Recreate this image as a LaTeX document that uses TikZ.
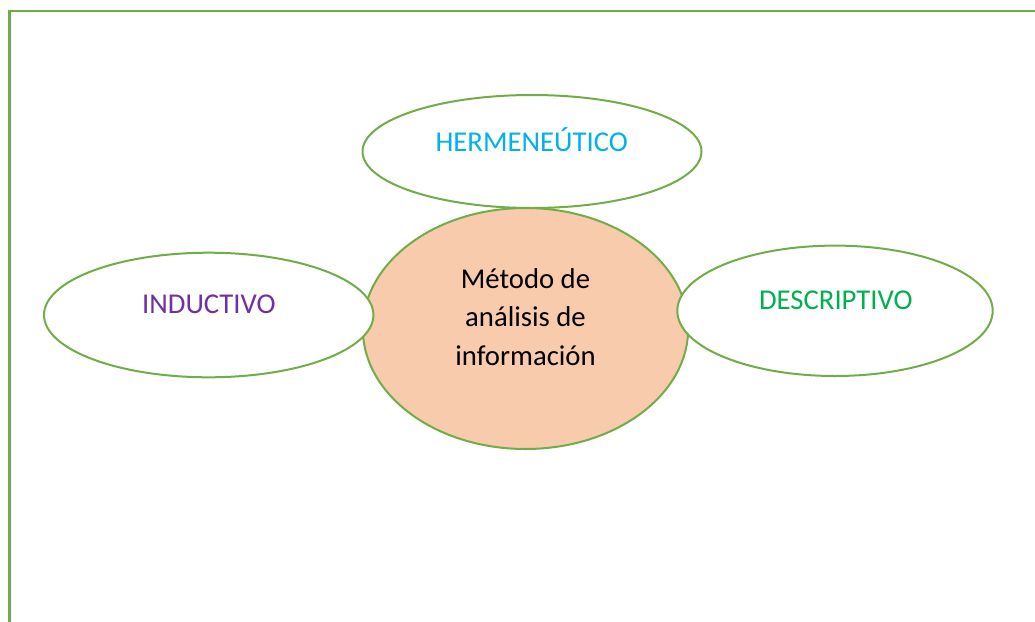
\documentclass[tikz,border=0pt]{standalone}
\usepackage{fontspec}
\setmainfont{Carlito}
\usetikzlibrary{shapes.geometric}
\definecolor{bordergreen}{HTML}{70AD47}
\definecolor{peach}{HTML}{F8CBAD}
\definecolor{hblue}{HTML}{00B0F0}
\definecolor{ipurple}{HTML}{7030A0}
\definecolor{dgreen}{HTML}{00B050}
\tikzset{
  oval/.style={ellipse, draw=bordergreen, line width=2pt, inner sep=0pt, outer sep=0pt},
  label text/.style={anchor=base, inner sep=0pt, font=\fontsize{28.7}{38.4}\selectfont}
}
\begin{document}
\begin{tikzpicture}[x=1pt,y=-1pt]
\useasboundingbox (0,0) rectangle (1035,621);
\begin{scope}
\clip (0,0) rectangle (1035,621);
\draw[bordergreen, line width=2.5pt] (9.5,11) rectangle (1050,640);
\end{scope}
% center
\node[oval, fill=peach, minimum width=325.4pt, minimum height=241pt] (center) at (525.5,328.5) {};
% satellites
\node[oval, fill=white, minimum width=339pt, minimum height=113pt] (herm) at (532,151.5) {};
\node[oval, fill=white, minimum width=329.4pt, minimum height=124.6pt] (ind) at (208.7,315) {};
\node[oval, fill=white, minimum width=315.4pt, minimum height=130.4pt] (desc) at (835,310.8) {};
% texts
\node[label text, text=hblue] (thermo) at (531.7,151) {HERMENEÚTICO};
\node[label text, text=ipurple] (tind) at (208.8,313.3) {INDUCTIVO};
\node[label text, text=dgreen] (tdesc) at (835.8,309.3) {DESCRIPTIVO};
\node[label text] (c1) at (525.5,288.3) {Método de};
\node[label text] (c2) at (525.5,326.8) {análisis de};
\node[label text] (c3) at (525.5,365.2) {información};
\end{tikzpicture}
\end{document}
